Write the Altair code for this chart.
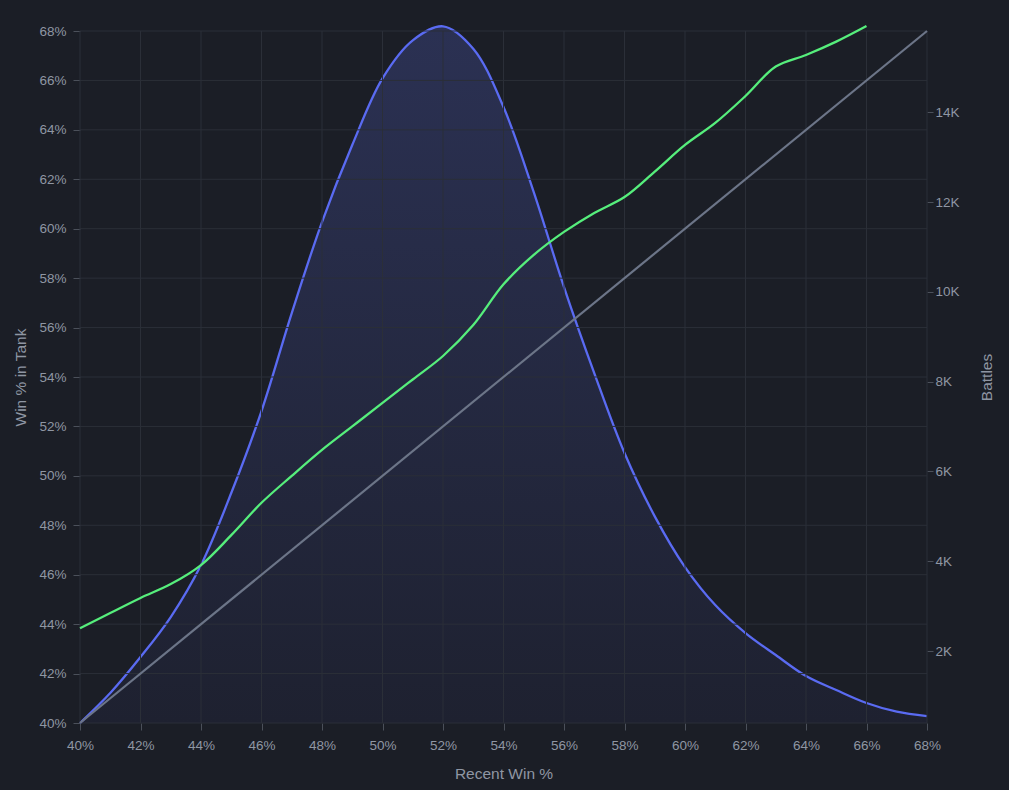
import altair as alt
import pandas as pd
import jinja2

# ---------------- data ----------------
RECENT_WIN = [40, 41, 42, 43, 44, 45, 46, 47, 48, 49, 50, 51, 52, 53, 54,
              55, 56, 57, 58, 59, 60, 61, 62, 63, 64, 65, 66, 67, 68]
BATTLES = [396, 1064, 1866, 2757, 3915, 5519, 7345, 9528, 11555, 13270,
           14755, 15602, 15914, 15415, 14116, 12223, 10107, 8190, 6410, 5000,
           3870, 3024, 2401, 1911, 1443, 1131, 842, 648, 552]

TANK_X = [40, 41, 42, 43, 44, 45, 46, 47, 48, 49, 50, 51, 52, 53,
          54, 55, 56, 57, 58, 59, 60, 61, 62, 63, 64, 65, 66]
WIN_IN_TANK = [43.83, 44.45, 45.06, 45.62, 46.39, 47.6, 48.91, 50.0, 51.05,
               52.0, 52.95, 53.9, 54.85, 56.1, 57.75, 58.94, 59.87, 60.64,
               61.28, 62.31, 63.39, 64.28, 65.37, 66.56, 67.03, 67.57, 68.2]

REF_X = [40, 68]
REF_Y = [40, 68]

PCT_TICKS = [40, 42, 44, 46, 48, 50, 52, 54, 56, 58, 60, 62, 64, 66, 68]
BATTLE_TICKS = [2000, 4000, 6000, 8000, 10000, 12000, 14000]
BATTLE_DOMAIN = [397, 15810]
PCT_DOMAIN = [40, 68]

# ---------------- styles ----------------
BG = "#1b1e26"
GRID = "#2b2f38"
TEXT = "#8f96a3"
TICK = "#4b505a"
FONT = "Liberation Sans"
CURVE = "catmull-rom"

df_blue = pd.DataFrame({"x": RECENT_WIN, "b": BATTLES})
df_green = pd.DataFrame({"x": TANK_X, "y": WIN_IN_TANK})
df_ref = pd.DataFrame({"x": REF_X, "y": REF_Y})
df_grid = pd.DataFrame({"x": PCT_TICKS, "y": PCT_TICKS})

x_axis = alt.Axis(values=PCT_TICKS, labelExpr="datum.value + '%'", title="Recent Win %",
                  grid=False, domain=False, tickSize=7, labelPadding=8, titlePadding=15,
                  labelFlush=False)
X = alt.X("x:Q", scale=alt.Scale(domain=PCT_DOMAIN, nice=False, zero=False), axis=x_axis)

left_axis = alt.Axis(orient="left", values=PCT_TICKS, labelExpr="datum.value + '%'",
                     title="Win % in Tank", grid=False, domain=False, tickSize=7,
                     labelPadding=7, titlePadding=10, labelFlush=False)
YL = alt.Y("y:Q", scale=alt.Scale(domain=PCT_DOMAIN, nice=False, zero=False), axis=left_axis)

right_axis = alt.Axis(orient="right", values=BATTLE_TICKS,
                      labelExpr="(datum.value / 1000) + 'K'", title="Battles",
                      titleAngle=270, grid=False, domain=False, tickSize=6,
                      labelPadding=2, titlePadding=35, labelFlush=False)
YR = alt.Y("b:Q", scale=alt.Scale(domain=BATTLE_DOMAIN, nice=False, zero=False), axis=right_axis)

gradient = alt.Gradient(
    gradient="linear",
    stops=[alt.GradientStop(color="#2b3153", offset=0),
           alt.GradientStop(color="#1e2130", offset=1)],
    x1=0, x2=0, y1=0, y2=1,
)

blue_area = alt.Chart(df_blue).mark_area(interpolate=CURVE, color=gradient).encode(
    x=X, y=YR, y2=alt.datum(BATTLE_DOMAIN[0]))
blue_line = alt.Chart(df_blue).mark_line(interpolate=CURVE, color="#5a6bf2",
                                         strokeWidth=2.3).encode(x=X, y=YR)
blue = alt.layer(blue_area, blue_line)

vgrid = alt.Chart(df_grid).mark_rule(color=GRID, strokeWidth=1).encode(x=X)
hgrid = alt.Chart(df_grid).mark_rule(color=GRID, strokeWidth=1).encode(y=YL)
ref_line = alt.Chart(df_ref).mark_line(color="#6c7588", strokeWidth=2.2).encode(x=X, y=YL)
green_line = alt.Chart(df_green).mark_line(interpolate=CURVE, color="#56ee7c",
                                           strokeWidth=2.3).encode(x=X, y=YL)
left = alt.layer(vgrid, hgrid, ref_line, green_line)

chart = alt.layer(blue, left).resolve_scale(y="independent").properties(
    width=847, height=692, autosize="none",
    padding={"left": 72, "top": 23, "right": 74, "bottom": 59},
    background=BG,
).configure_view(stroke=None).configure_axis(
    labelFont=FONT, labelFontSize=13.5, labelColor=TEXT,
    titleFont=FONT, titleFontSize=15.5, titleFontWeight="normal", titleColor=TEXT,
    tickColor=TICK, tickWidth=1,
)

TEMPLATE = jinja2.Template("""<!DOCTYPE html>
<html>
<head>
<style>html, body { background: #1b1e26; }</style>
<script type="text/javascript" src="{{ base_url }}/vega@{{ vega_version }}"></script>
<script type="text/javascript" src="{{ base_url }}/vega-lite@{{ vegalite_version }}"></script>
<script type="text/javascript" src="{{ base_url }}/vega-embed@{{ vegaembed_version }}"></script>
</head>
<body>
<div id="{{ output_div }}"></div>
<script type="text/javascript">
  (function(vegaEmbed) {
    var spec = {{ spec }};
    var embedOpt = {{ embed_options }};
    vegaEmbed("#{{ output_div }}", spec, embedOpt).catch(console.error);
  })(vegaEmbed);
</script>
</body>
</html>
""")

chart.save("out.html", embed_options={"renderer": "svg", "actions": False}, template=TEMPLATE)
